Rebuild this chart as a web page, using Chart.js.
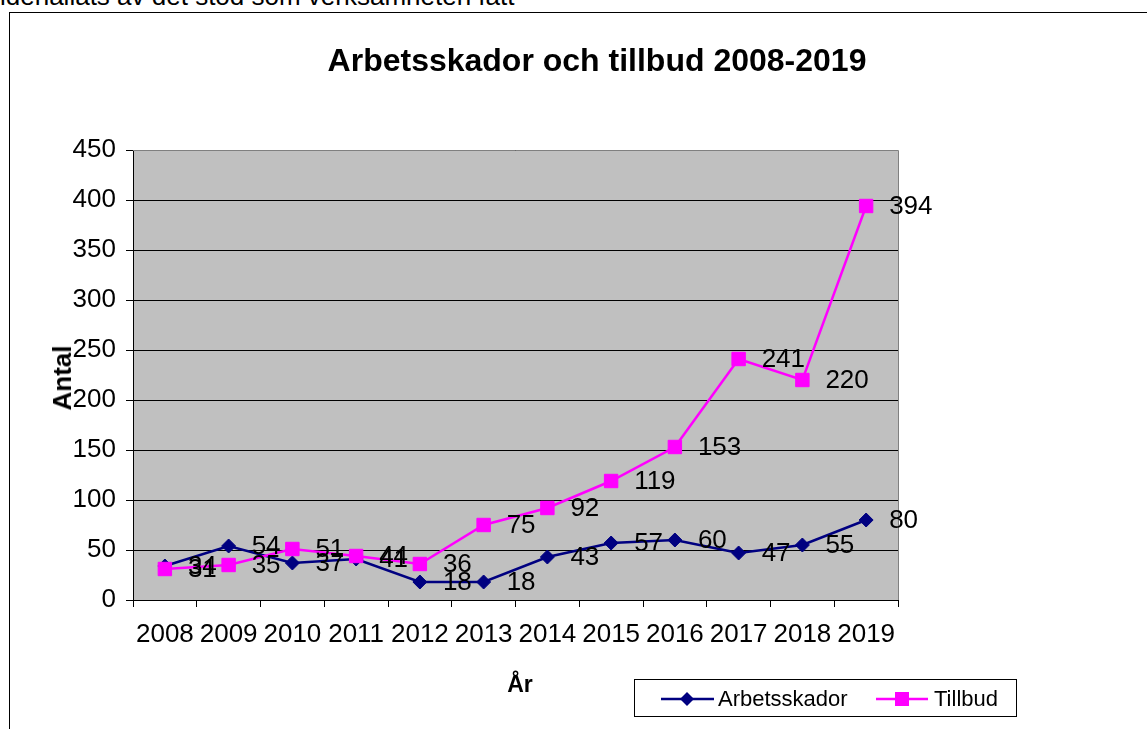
<!DOCTYPE html>
<html><head><meta charset="utf-8">
<script src="https://cdn.jsdelivr.net/npm/chart.js@4.4.0/dist/chart.umd.min.js"></script>
<style>
html,body{margin:0;padding:0;background:#fff;overflow:hidden;width:1147px;height:729px;font-family:"Liberation Sans",Arial,sans-serif;}
#frame{position:absolute;left:9px;top:12px;width:1200px;height:800px;border:1px solid #000;box-sizing:border-box;}
#wrap{position:absolute;left:0;top:0;width:1147px;height:729px;}
.t{position:absolute;white-space:nowrap;line-height:1;color:#000;}
#legend{position:absolute;left:634px;top:679px;width:383px;height:38px;border:1px solid #000;box-sizing:border-box;background:#fff;}
</style></head><body>
<div class="t" style="left:0;top:-17px;font-size:26px;">idehållats av det stöd som verksamheten fått</div>
<div id="frame"></div>
<div id="wrap"><canvas id="c" width="1147" height="729"></canvas></div>
<div class="t" id="title" style="left:597px;top:44px;font-size:32px;font-weight:bold;transform:translateX(-50%);"></div>
<div class="t" id="xtitle" style="left:520px;top:673px;font-size:23px;font-weight:bold;transform:translateX(-50%);"></div>
<div class="t" id="ytitle" style="left:62px;top:378px;font-size:26px;font-weight:bold;transform:translate(-50%,-50%) rotate(-90deg);"></div>
<div id="legend">
<svg width="383" height="38" style="position:absolute;left:0;top:0">
 <line x1="26" y1="19" x2="79" y2="19" stroke="#000080" stroke-width="2.5"/>
 <polygon points="52,12 59,19 52,26 45,19" fill="#000080"/>
 <line x1="241" y1="19" x2="293" y2="19" stroke="#FF00FF" stroke-width="2.5"/>
 <rect x="260" y="12" width="14" height="14" fill="#FF00FF"/>
</svg>
<span class="t" id="leg1" style="left:83px;top:8px;font-size:22px;"></span>
<span class="t" id="leg2" style="left:299px;top:8px;font-size:22px;"></span>
</div>
<script>
const chartTitle = 'Arbetsskador och tillbud 2008-2019';
const xAxisTitle = 'År';
const yAxisTitle = 'Antal';
const years = ['2008','2009','2010','2011','2012','2013','2014','2015','2016','2017','2018','2019'];
const seriesNames = ['Arbetsskador','Tillbud'];
const arbetsskador = [34, 54, 37, 41, 18, 18, 43, 57, 60, 47, 55, 80];
const tillbud = [31, 35, 51, 44, 36, 75, 92, 119, 153, 241, 220, 394];
const yTicks = [0, 50, 100, 150, 200, 250, 300, 350, 400, 450];

document.getElementById('title').textContent = chartTitle;
document.getElementById('xtitle').textContent = xAxisTitle;
document.getElementById('ytitle').textContent = yAxisTitle;
document.getElementById('leg1').textContent = seriesNames[0];
document.getElementById('leg2').textContent = seriesNames[1];

const FONT = '"Liberation Sans", Arial, sans-serif';

const plotBg = {
  id: 'plotBg',
  beforeDraw(chart) {
    const {ctx, chartArea: a} = chart;
    ctx.save();
    ctx.fillStyle = '#C0C0C0';
    ctx.fillRect(a.left, a.top, a.right - a.left, a.bottom - a.top);
    ctx.restore();
  },
  beforeDatasetsDraw(chart) {
    const {ctx, chartArea: a} = chart;
    ctx.save();
    ctx.strokeStyle = '#808080';
    ctx.lineWidth = 1;
    ctx.beginPath();
    ctx.moveTo(a.left, Math.round(a.top) + 0.5);
    ctx.lineTo(Math.round(a.right) + 0.5, Math.round(a.top) + 0.5);
    ctx.lineTo(Math.round(a.right) + 0.5, a.bottom);
    ctx.stroke();
    ctx.restore();
  }
};

const valueLabels = {
  id: 'valueLabels',
  afterDatasetsDraw(chart) {
    const {ctx} = chart;
    ctx.save();
    ctx.font = '26px ' + FONT;
    ctx.fillStyle = '#000';
    ctx.textAlign = 'left';
    ctx.textBaseline = 'middle';
    chart.data.datasets.forEach((ds, i) => {
      const meta = chart.getDatasetMeta(i);
      meta.data.forEach((pt, j) => {
        ctx.fillText(String(ds.data[j]), pt.x + 23, pt.y + 1);
      });
    });
    ctx.restore();
  }
};

new Chart(document.getElementById('c'), {
  type: 'line',
  data: {
    labels: years,
    datasets: [
      {
        label: seriesNames[0], data: arbetsskador, order: 1,
        borderColor: '#000080', backgroundColor: '#000080', borderWidth: 2.5,
        pointStyle: 'rectRot', pointRadius: 7, pointBorderWidth: 1,
        pointBackgroundColor: '#000080', pointBorderColor: '#000080', tension: 0
      },
      {
        label: seriesNames[1], data: tillbud, order: 0,
        borderColor: '#FF00FF', backgroundColor: '#FF00FF', borderWidth: 2.5,
        pointStyle: 'rect', pointRadius: 9.5, pointBorderWidth: 1,
        pointBackgroundColor: '#FF00FF', pointBorderColor: '#FF00FF', tension: 0
      }
    ]
  },
  options: {
    responsive: false,
    animation: false,
    devicePixelRatio: 1,
    layout: { padding: { left: 0, top: 150, right: 249, bottom: 69 } },
    plugins: { legend: { display: false }, title: { display: false }, tooltip: { enabled: false } },
    scales: {
      x: {
        type: 'category', offset: true,
        grid: { offset: true, drawOnChartArea: false, drawTicks: true, tickLength: 7, color: '#000', lineWidth: 1 },
        border: { display: true, color: '#000', width: 1 },
        ticks: { color: '#000', font: { size: 26, family: FONT }, padding: 12, maxRotation: 0, autoSkip: false },
        afterFit(s) { s.height = 60; }
      },
      y: {
        min: 0, max: 450,
        afterBuildTicks(s) { s.ticks = yTicks.map(v => ({ value: v })); },
        grid: { color: '#000', lineWidth: 1, drawTicks: true, tickLength: 7 },
        border: { display: true, color: '#000', width: 1 },
        ticks: { color: '#000', font: { size: 26, family: FONT }, padding: 10 },
        afterFit(s) { s.width = 133; }
      }
    }
  },
  plugins: [plotBg, valueLabels]
});
</script>
</body></html>
